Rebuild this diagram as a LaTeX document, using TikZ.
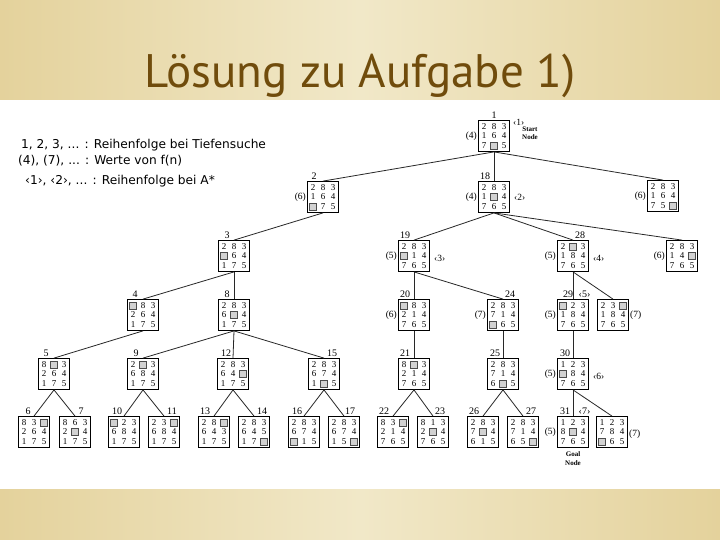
\documentclass[tikz,border=0pt]{standalone}
\usepackage{fontspec}
\usetikzlibrary{positioning}
\newfontfamily\serif{Liberation Serif}
\newfontfamily\legendfont{DejaVu Sans}
\newfontfamily\titlefont{PT Sans}
\definecolor{bglight}{RGB}{241,232,200}
\definecolor{bgdark}{RGB}{228,210,156}
\definecolor{titlebrown}{RGB}{112,76,12}
\definecolor{edgegray}{RGB}{40,40,40}
\tikzset{
  puzbox/.style={draw=black,line width=0.8pt,minimum size=31pt,inner sep=0pt},
  digit/.style={font=\serif\fontsize{9}{9}\selectfont,inner sep=0pt},
  blank/.style={draw=gray!60!black,fill=gray!35,line width=0.4pt,minimum size=7pt,inner sep=0pt},
  num/.style={font=\serif\fontsize{10}{10}\selectfont,inner sep=0.5pt,anchor=south},
  fval/.style={font=\serif\fontsize{9.5}{9.5}\selectfont,inner sep=1pt,anchor=east},
  astar/.style={font=\serif\fontsize{9.5}{9.5}\selectfont,inner sep=1pt,anchor=west},
  note/.style={font=\serif\bfseries\fontsize{7}{8.5}\selectfont,align=center,inner sep=0pt},
  legend/.style={font=\legendfont\fontsize{12.2}{14}\selectfont,inner sep=0pt,anchor=base west},
  edge/.style={draw=edgegray,line width=0.8pt}
}
% one 8-puzzle state: name, x, y, cells row by row (0 = blank)
\newcommand{\puzzle}[4]{%
  \node[puzbox] (#1) at (#2,#3) {};
  \foreach \v [count=\k from 0] in {#4} {
    \pgfmathsetmacro\px{#2+10*(mod(\k,3)-1)}
    \pgfmathsetmacro\py{#3+9.5*(div(\k,3)-1)}
    \ifnum\v=0
      \node[blank] (#1-\k) at (\px,\py) {};
    \else
      \node[digit] (#1-\k) at (\px,\py) {\v};
    \fi
  }%
}
\begin{document}
\begin{tikzpicture}[x=1pt,y=-1pt]
\useasboundingbox (0,0) rectangle (720,540);
% slide background
\fill[white] (0,0) rectangle (720,540);
\shade[left color=bgdark,right color=bgdark,middle color=bglight] (0,0) rectangle (720,100);
\shade[left color=bgdark,right color=bgdark,middle color=bglight] (0,489) rectangle (720,540);
\node[font=\titlefont\fontsize{47}{47}\selectfont,text=titlebrown,anchor=base,inner sep=0pt] (title) at (360,88) {Lösung zu Aufgabe 1)};
% legend
\node[legend] (leg1) at (21,149) {1, 2, 3, ... : Reihenfolge bei Tiefensuche};
\node[legend] (leg2) at (18,165) {(4), (7), ... : Werte von f(n)};
\node[legend] (leg3) at (25,185) {‹1›, ‹2›, ... : Reihenfolge bei A*};
% states
\puzzle{N1}{494}{136}{2,8,3,1,6,4,7,0,5}
\puzzle{N2}{323}{197}{2,8,3,1,6,4,0,7,5}
\puzzle{N18}{494}{197}{2,8,3,1,0,4,7,6,5}
\puzzle{NR1}{663}{196}{2,8,3,1,6,4,7,5,0}
\puzzle{N3}{234}{256}{2,8,3,0,6,4,1,7,5}
\puzzle{N19}{414}{256}{2,8,3,0,1,4,7,6,5}
\puzzle{N28}{573}{256}{2,0,3,1,8,4,7,6,5}
\puzzle{NR2}{682}{256}{2,8,3,1,4,0,7,6,5}
\puzzle{N4}{143}{315}{0,8,3,2,6,4,1,7,5}
\puzzle{N8}{234}{315}{2,8,3,6,0,4,1,7,5}
\puzzle{N20}{414}{315}{0,8,3,2,1,4,7,6,5}
\puzzle{N24}{503}{315}{2,8,3,7,1,4,0,6,5}
\puzzle{N29}{573}{315}{0,2,3,1,8,4,7,6,5}
\puzzle{NR3}{613}{315}{2,3,0,1,8,4,7,6,5}
\puzzle{N5}{54}{374}{8,0,3,2,6,4,1,7,5}
\puzzle{N9}{143}{374}{2,0,3,6,8,4,1,7,5}
\puzzle{N12}{233}{374}{2,8,3,6,4,0,1,7,5}
\puzzle{N15}{324}{374}{2,8,3,6,7,4,1,0,5}
\puzzle{N21}{414}{374}{8,0,3,2,1,4,7,6,5}
\puzzle{N25}{503}{374}{2,8,3,7,1,4,6,0,5}
\puzzle{N30}{573}{374}{1,2,3,0,8,4,7,6,5}
\puzzle{N6}{34}{432}{8,3,0,2,6,4,1,7,5}
\puzzle{N7}{75}{432}{8,6,3,2,0,4,1,7,5}
\puzzle{N10}{124}{432}{0,2,3,6,8,4,1,7,5}
\puzzle{N11}{164}{432}{2,3,0,6,8,4,1,7,5}
\puzzle{N13}{214}{432}{2,8,0,6,4,3,1,7,5}
\puzzle{N14}{254}{432}{2,8,3,6,4,5,1,7,0}
\puzzle{N16}{304}{432}{2,8,3,6,7,4,0,1,5}
\puzzle{N17}{344}{432}{2,8,3,6,7,4,1,5,0}
\puzzle{N22}{393}{432}{8,3,0,2,1,4,7,6,5}
\puzzle{N23}{433}{432}{8,1,3,2,0,4,7,6,5}
\puzzle{N26}{483}{432}{2,8,3,7,0,4,6,1,5}
\puzzle{N27}{523}{432}{2,8,3,7,1,4,6,5,0}
\puzzle{N31}{573}{432}{1,2,3,8,0,4,7,6,5}
\puzzle{NR4}{612}{432}{1,2,3,7,8,4,0,6,5}
% search tree
\foreach \a/\b in {1/2,1/18,1/R1,2/3,3/4,3/8,4/5,5/6,5/7,8/9,8/12,8/15,
  9/10,9/11,12/13,12/14,15/16,15/17,18/19,18/28,18/R2,19/20,19/24,
  20/21,21/22,21/23,24/25,25/26,25/27,28/29,28/R3,29/30,30/31,30/R4}
  \draw[edge] (N\a.south) -- (N\b.north);
% depth-first order
\foreach \n/\dx in {1/0,2/-9,18/-9,3/-7,19/-9,28/7,4/-8,8/-7,20/-9,24/7,29/-5,
  5/-8,9/-7,12/-7,15/8,21/-9,25/-8,30/-8,6/-6,7/6,10/-7,11/8,13/-9,14/8,
  16/-7,17/6,22/-9,23/7,26/-9,27/8,31/-8}
  \node[num] (l\n) at ([xshift=\dx pt,yshift=0.5pt]N\n.north) {\n};
% f values
\foreach \n/\f in {1/4,2/6,18/4,R1/6,19/5,28/5,R2/6,20/6,24/7,29/5,30/5,31/5}
  \node[fval] (f\n) at (N\n.west) {(\f)};
\node[fval,anchor=west] (fR3) at (NR3.east) {(7)};
\node[fval,anchor=west] (fR4) at ([yshift=-2pt]NR4.east) {(7)};
% A* order
\node[astar] (a1) at ([xshift=2pt,yshift=-2pt]N1.north east) {‹1›};
\node[astar] (a2) at ([xshift=3pt]N18.east) {‹2›};
\node[astar] (a3) at ([xshift=3pt,yshift=-2pt]N19.east) {‹3›};
\node[astar] (a4) at ([xshift=3pt,yshift=-2pt]N28.east) {‹4›};
\node[num,anchor=south west] (a5) at ([xshift=5pt,yshift=0.5pt]N29.north) {‹5›};
\node[astar] (a6) at ([xshift=3pt,yshift=-2pt]N30.east) {‹6›};
\node[num,anchor=south west] (a7) at ([xshift=5pt,yshift=0.5pt]N31.north) {‹7›};
% start and goal
\node[note,anchor=west] (start) at (522,133) {Start\\Node};
\node[note,anchor=north] (goal) at ([yshift=-4pt]N31.south) {Goal\\Node};
\end{tikzpicture}
\end{document}
